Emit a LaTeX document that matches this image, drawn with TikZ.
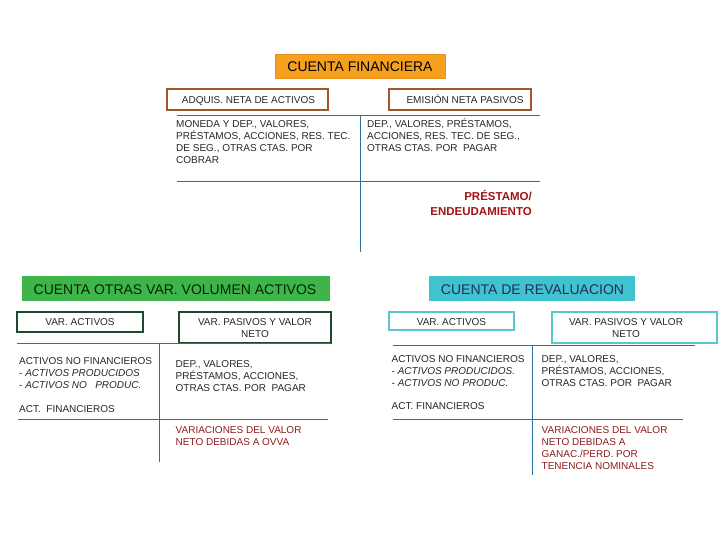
\documentclass[tikz,border=0pt]{standalone}
\usepackage{fontspec}
\setmainfont{Liberation Sans}
\definecolor{orangefill}{HTML}{F5A01E}
\definecolor{orangeline}{HTML}{E89018}
\definecolor{greenfill}{HTML}{3DB54A}
\definecolor{cyanfill}{HTML}{40C3CE}
\definecolor{brownline}{HTML}{A0582A}
\definecolor{dgreenline}{HTML}{1C4A2A}
\definecolor{lcyanline}{HTML}{5CC6CF}
\definecolor{lineblue}{HTML}{2F6F9F}
\definecolor{boldred}{HTML}{A01414}
\definecolor{redtext}{HTML}{8E1B1B}
\definecolor{txt}{HTML}{262626}
\definecolor{navy}{HTML}{1E2F5A}
\newcommand{\mystrut}{\rule{0pt}{10pt}}
\begin{document}
\begin{tikzpicture}[x=1pt,y=-1pt,
  boxshape/.style={draw, line width=2pt, inner sep=0pt},
  titletext/.style={font=\fontsize{14}{16}\selectfont, inner sep=0pt, anchor=base},
  boxtext/.style={font=\fontsize{10}{12}\selectfont, inner sep=0pt, text=txt},
  bodytext/.style={font=\fontsize{10}{12}\selectfont, inner sep=0pt, anchor=north west, align=left, text=txt},
  redbody/.style={bodytext, text=redtext},
  tline/.style={draw=lineblue, line width=1pt}]
\useasboundingbox (0,0) rectangle (720,540);

% ---------- CUENTA FINANCIERA ----------
\node[boxshape, draw=orangeline, line width=0.6pt, fill=orangefill, minimum width=170pt, minimum height=24pt] (cfbox) at (360,66) {};
\node[titletext, text=black] (cftitle) at (360,72) {CUENTA FINANCIERA};

\node[boxshape, draw=brownline, minimum width=161pt, minimum height=21pt] (adqbox) at (247.5,99.5) {};
\node[boxtext, anchor=base] (adqtext) at (248.5,103.5) {ADQUIS. NETA DE ACTIVOS};
\node[boxshape, draw=brownline, minimum width=142pt, minimum height=21pt] (emibox) at (460,99.5) {};
\node[boxtext, anchor=base] (emitext) at (465,103.5) {EMISIÓN NETA PASIVOS};

\coordinate (t1l) at (177,116); \coordinate (t1r) at (540,116);
\coordinate (t1top) at (360,116); \coordinate (t1bot) at (360,252);
\coordinate (t2l) at (177,182); \coordinate (t2r) at (540,182);
\draw[tline] (t1l) -- (t1r);
\draw[tline] (t1top) -- (t1bot);
\draw[tline] (t2l) -- (t2r);

\node[bodytext] (fleft) at (176,117) {\mystrut MONEDA Y DEP., VALORES,\\PRÉSTAMOS, ACCIONES, RES. TEC.\\DE SEG., OTRAS CTAS. POR\\COBRAR};
\node[bodytext] (fright) at (367,117) {\mystrut DEP., VALORES, PRÉSTAMOS,\\ACCIONES, RES. TEC. DE SEG.,\\OTRAS CTAS. POR\ \ PAGAR};

\node[inner sep=0pt, anchor=north east, align=right, text=boldred, font=\fontsize{11.5}{15}\bfseries\selectfont] (prest) at (532,189.5) {\rule{0pt}{11pt}PRÉSTAMO/\\ENDEUDAMIENTO};

% ---------- CUENTA OTRAS VAR. VOLUMEN ACTIVOS ----------
\node[boxshape, draw=none, fill=greenfill, minimum width=308pt, minimum height=25pt] (ovbox) at (176,288.5) {};
\node[titletext, text=black!85!green] (ovtitle) at (175,294.5) {CUENTA OTRAS VAR. VOLUMEN ACTIVOS};

\node[boxshape, draw=dgreenline, minimum width=126pt, minimum height=20pt] (ovabox) at (80,322) {};
\node[boxtext, anchor=base] (ovatext) at (80,325) {VAR. ACTIVOS};
\node[boxshape, draw=dgreenline, minimum width=152pt, minimum height=31pt] (ovpbox) at (255,327.5) {};
\node[boxtext, anchor=north, align=center] (ovptext) at (255,315) {\mystrut VAR. PASIVOS Y VALOR\\NETO};

\coordinate (l1l) at (17,343); \coordinate (l1r) at (331,343);
\coordinate (lvtop) at (159,343); \coordinate (lvbot) at (159,462);
\coordinate (l2l) at (18,419); \coordinate (l2r) at (328,419);
\draw[tline] (l1l) -- (l1r);
\draw[tline] (lvtop) -- (lvbot);
\draw[tline] (l2l) -- (l2r);

\node[bodytext] (ovleft) at (19,354.5) {\mystrut ACTIVOS NO FINANCIEROS\\- \textit{ACTIVOS PRODUCIDOS}\\- \textit{ACTIVOS NO\ \ \ PRODUC.}};
\node[bodytext, anchor=base west] (ovfin) at (19,412) {ACT.\ \ FINANCIEROS};
\node[bodytext] (ovright) at (175.5,357) {\mystrut DEP., VALORES,\\PRÉSTAMOS, ACCIONES,\\OTRAS CTAS. POR\ \ PAGAR};
\node[redbody] (ovred) at (175.5,423.5) {\mystrut VARIACIONES DEL VALOR\\NETO DEBIDAS A OVVA};

% ---------- CUENTA DE REVALUACION ----------
\node[boxshape, draw=none, fill=cyanfill, minimum width=206pt, minimum height=25pt] (rvbox) at (532,288.5) {};
\node[titletext, text=navy] (rvtitle) at (532.5,294) {CUENTA DE REVALUACION};

\node[boxshape, draw=lcyanline, minimum width=125pt, minimum height=18pt] (rvabox) at (451.5,321) {};
\node[boxtext, anchor=base] (rvatext) at (451.5,325.5) {VAR. ACTIVOS};
\node[boxshape, draw=lcyanline, minimum width=165pt, minimum height=31pt] (rvpbox) at (634.5,327.5) {};
\node[boxtext, anchor=north, align=center] (rvptext) at (626,315.5) {\mystrut VAR. PASIVOS Y VALOR\\NETO};

\coordinate (r1l) at (393,345); \coordinate (r1r) at (695,345);
\coordinate (rvtop) at (532,345); \coordinate (rvbot) at (532,475);
\coordinate (r2l) at (393,419); \coordinate (r2r) at (683,419);
\draw[tline] (r1l) -- (r1r);
\draw[tline] (rvtop) -- (rvbot);
\draw[tline] (r2l) -- (r2r);

\node[bodytext] (rvleft) at (391.5,352) {\mystrut ACTIVOS NO FINANCIEROS\\- \textit{ACTIVOS PRODUCIDOS.}\\- \textit{ACTIVOS NO PRODUC.}};
\node[bodytext, anchor=base west] (rvfin) at (391.5,409.5) {ACT. FINANCIEROS};
\node[bodytext] (rvright) at (541.5,352) {\mystrut DEP., VALORES,\\PRÉSTAMOS, ACCIONES,\\OTRAS CTAS. POR\ \ PAGAR};
\node[redbody] (rvred) at (541.5,423.5) {\mystrut VARIACIONES DEL VALOR\\NETO DEBIDAS A\\GANAC./PERD. POR\\TENENCIA NOMINALES};
\end{tikzpicture}
\end{document}
